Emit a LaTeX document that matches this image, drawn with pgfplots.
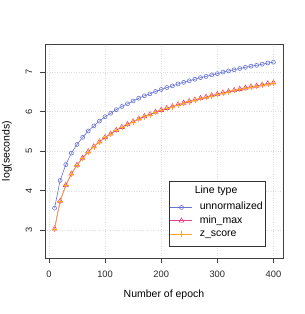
\documentclass[border=0pt]{standalone}
\usepackage{fontspec}
\setmainfont{Liberation Sans}
\usepackage{pgfplots}
\pgfplotsset{compat=1.18}
\definecolor{cblue}{RGB}{105,115,215}
\definecolor{cpink}{RGB}{226,64,140}
\definecolor{corange}{RGB}{255,165,40}
\pgfplotstableread{
x un mm zs
10 3.56 3.04 3.03
20 4.26 3.74 3.73
30 4.66 4.14 4.13
40 4.95 4.43 4.42
50 5.17 4.65 4.64
60 5.35 4.83 4.82
70 5.51 4.99 4.98
80 5.64 5.12 5.11
90 5.76 5.24 5.23
100 5.87 5.35 5.34
110 5.96 5.44 5.43
120 6.05 5.53 5.52
130 6.13 5.61 5.60
140 6.20 5.68 5.67
150 6.27 5.75 5.74
160 6.34 5.82 5.81
170 6.40 5.88 5.87
180 6.45 5.93 5.92
190 6.51 5.99 5.98
200 6.56 6.04 6.03
210 6.61 6.09 6.08
220 6.65 6.13 6.12
230 6.70 6.18 6.17
240 6.74 6.22 6.21
250 6.78 6.26 6.25
260 6.82 6.30 6.29
270 6.86 6.34 6.33
280 6.89 6.37 6.36
290 6.93 6.41 6.40
300 6.96 6.44 6.43
310 7.00 6.48 6.47
320 7.03 6.51 6.50
330 7.06 6.54 6.53
340 7.09 6.57 6.56
350 7.12 6.60 6.59
360 7.15 6.63 6.62
370 7.17 6.65 6.64
380 7.20 6.68 6.67
390 7.23 6.71 6.70
400 7.25 6.73 6.72
}\datatable
\begin{document}
\begin{tikzpicture}
\begin{axis}[at={(45pt,56pt)}, anchor=south west, scale only axis,
  width=238pt, height=214pt,
  xmin=-7, xmax=417, ymin=2.30, ymax=7.71,
  xtick={0,100,200,300,400}, ytick={3,4,5,6,7},
  tick align=outside, major tick length=5pt,
  axis line style={black!75, line width=0.8pt},
  every tick/.style={black!75, line width=0.6pt},
  xtick pos=bottom, ytick pos=left,
  grid=major, grid style={dotted, black!13, line width=0.5pt},
  /pgf/number format/assume math mode=true,
  tick label style={font=\fontsize{9.3}{10}\selectfont, text=black!85},
  xticklabel style={anchor=center, yshift=-11.5pt},
  yticklabel style={rotate=90, anchor=center},
  yticklabel shift=11pt,
  label style={font=\fontsize{10.5}{12}\selectfont},
  xlabel={Number of epoch},
  ylabel={log(seconds)},
  xlabel style={at={(axis description cs:0.5,-0.173)}, anchor=center},
  ylabel style={at={(axis description cs:-0.16,0.5)}, anchor=center},
  legend style={at={(0.52,0.051)}, anchor=south west, draw=black!80,
    line width=0.8pt, fill=white, font=\fontsize{10.5}{12}\selectfont,
    inner xsep=1pt, inner ysep=6pt, row sep=0pt,
    nodes={inner ysep=0.5pt, text height=8.6pt, text depth=3.7pt}},
  legend cell align=left,
  legend image code/.code={\draw[mark repeat=2,mark phase=2,#1] plot coordinates {(0pt,0pt)(11pt,0pt)(22pt,0pt)};},
]
\addlegendimage{empty legend}
\addlegendentry{\raisebox{3.4pt}{Line type}}
\addplot[cblue, line width=0.6pt, mark=o, mark size=2pt, mark options={line width=0.6pt}] table[x=x,y=un]{\datatable};
\addlegendentry{\hspace*{5pt}unnormalized}
\addplot[cpink, line width=0.6pt, mark=triangle, mark size=2.8pt, mark options={line width=0.6pt}] table[x=x,y=mm]{\datatable};
\addlegendentry{\hspace*{5pt}min\_max}
\addplot[corange, line width=0.6pt, mark=+, mark size=2.8pt, mark options={line width=0.6pt}] table[x=x,y=zs]{\datatable};
\addlegendentry{\hspace*{5pt}z\_score}
\end{axis}
\pgfresetboundingbox
\path[use as bounding box] (0pt,0pt) rectangle (305pt,314pt);
\end{tikzpicture}
\end{document}
